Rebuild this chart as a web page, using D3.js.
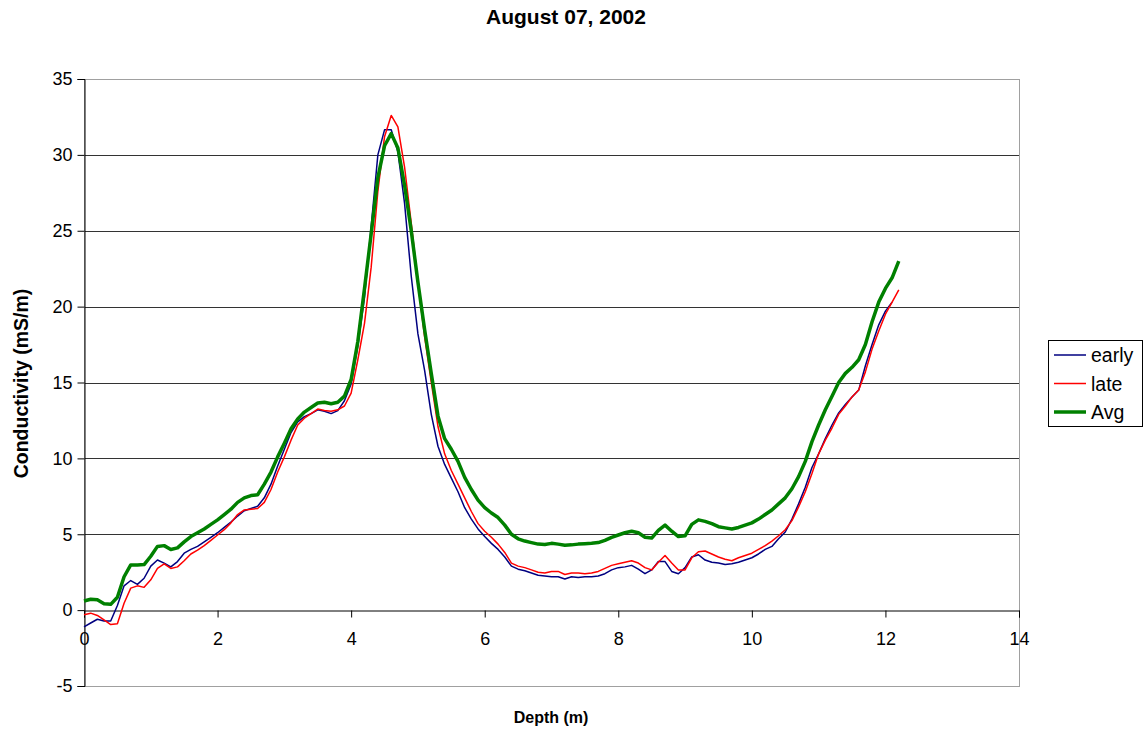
<!DOCTYPE html>
<html>
<head>
<meta charset="utf-8">
<script src="https://cdn.jsdelivr.net/npm/d3@7/dist/d3.min.js"></script>
<style>
  body { margin: 0; background: #fff; }
  svg { display: block; font-family: "Liberation Sans", Arial, sans-serif; }
</style>
</head>
<body>
<svg id="chart" width="1147" height="729"></svg>
<script>
// Depth samples (m), every 0.1 m from 0 to 12.2
const depth = d3.range(0, 123).map(i => +(i * 0.1).toFixed(1));

// Conductivity (mS/m), early survey
const early = [
  -1.1, -0.85, -0.6, -0.72, -0.72, 0.3, 1.6, 1.95, 1.7, 2.1,
  2.9, 3.3, 3.1, 2.85, 3.2, 3.75, 4.0, 4.2, 4.5, 4.8,
  5.1, 5.45, 5.8, 6.2, 6.55, 6.7, 6.85, 7.4, 8.3, 9.5,
  10.6, 11.7, 12.4, 12.75, 12.95, 13.2, 13.1, 12.95, 13.15, 13.8,
  14.9, 17.4, 20.6, 25.3, 30.0, 31.65, 31.65, 30.2, 26.8, 22.0,
  18.2, 15.8, 12.9, 10.8, 9.6, 8.7, 7.8, 6.75, 6.0, 5.35,
  4.85, 4.4, 4.0, 3.5, 2.9, 2.7, 2.6, 2.45, 2.3, 2.25,
  2.2, 2.2, 2.05, 2.2, 2.15, 2.2, 2.2, 2.25, 2.4, 2.65,
  2.8, 2.85, 2.95, 2.7, 2.4, 2.65, 3.2, 3.2, 2.55, 2.4,
  2.8, 3.5, 3.65, 3.3, 3.15, 3.1, 3.0, 3.05, 3.15, 3.3,
  3.45, 3.7, 4.0, 4.2, 4.7, 5.15, 6.0, 7.0, 8.1, 9.4,
  10.3, 11.3, 12.2, 13.0, 13.55, 14.05, 14.5, 16.1, 17.5, 18.8,
  19.7, 20.3
];

// Conductivity (mS/m), late survey
const late = [
  -0.3, -0.2, -0.35, -0.65, -0.95, -0.9, 0.45, 1.45, 1.6, 1.5,
  2.0, 2.75, 3.05, 2.75, 2.85, 3.25, 3.7, 3.95, 4.25, 4.6,
  4.95, 5.3, 5.75, 6.3, 6.6, 6.65, 6.7, 7.1, 7.95, 9.1,
  10.1, 11.2, 12.2, 12.65, 12.95, 13.25, 13.15, 13.1, 13.2, 13.45,
  14.3, 16.5, 18.9, 22.6, 27.6, 31.2, 32.6, 31.85, 29.2, 25.5,
  21.6, 18.0, 15.0, 12.1, 10.3, 9.2, 8.3, 7.4, 6.5, 5.7,
  5.2, 4.8, 4.35, 3.8, 3.1, 2.9, 2.8, 2.65, 2.5, 2.45,
  2.55, 2.55, 2.35, 2.45, 2.45, 2.4, 2.45, 2.55, 2.75, 2.95,
  3.05, 3.15, 3.25, 3.1, 2.8, 2.65, 3.15, 3.6, 3.1, 2.65,
  2.65, 3.45, 3.85, 3.9, 3.7, 3.5, 3.35, 3.25, 3.45, 3.6,
  3.75, 4.0, 4.25, 4.55, 4.9, 5.3, 5.9, 6.8, 7.8, 9.0,
  10.3, 11.2, 12.0, 12.9, 13.45, 14.05, 14.5, 15.7, 17.2, 18.4,
  19.5, 20.3, 21.1
];

// Conductivity (mS/m), average profile
const avg = [
  0.6, 0.72, 0.68, 0.42, 0.38, 0.85, 2.2, 2.98, 2.98, 3.0,
  3.55, 4.2, 4.25, 4.0, 4.1, 4.5, 4.85, 5.1, 5.35, 5.65,
  5.95, 6.3, 6.65, 7.1, 7.4, 7.55, 7.6, 8.3, 9.1, 10.1,
  11.0, 11.95, 12.6, 13.05, 13.35, 13.65, 13.7, 13.6, 13.7, 14.1,
  15.2, 17.7, 21.2, 24.8, 28.5, 30.6, 31.4, 30.45, 28.0, 25.0,
  21.6, 18.5, 15.6, 12.8, 11.3, 10.6, 9.8, 8.75, 7.95, 7.25,
  6.75, 6.4, 6.1, 5.6, 5.0, 4.7, 4.55, 4.45, 4.35, 4.32,
  4.4, 4.35, 4.28, 4.3, 4.35, 4.38, 4.4, 4.45, 4.6, 4.8,
  4.95, 5.1, 5.2, 5.1, 4.8, 4.75, 5.25, 5.6, 5.2, 4.85,
  4.9, 5.65, 5.95, 5.85, 5.7, 5.5, 5.42, 5.35, 5.45, 5.6,
  5.75, 6.0, 6.3, 6.6, 7.0, 7.4, 8.0, 8.8, 9.8, 11.1,
  12.2, 13.2, 14.1, 15.0, 15.6, 16.0, 16.5, 17.5, 19.0, 20.3,
  21.2, 21.9, 23.0
];

const xTicks = [0, 2, 4, 6, 8, 10, 12, 14];
const yTicks = [-5, 0, 5, 10, 15, 20, 25, 30, 35];

const series = [
  { name: "early", values: early, color: "#000080", width: 1.5 },
  { name: "late",  values: late,  color: "#ff0000", width: 1.5 },
  { name: "Avg",   values: avg,   color: "#008000", width: 3.5 }
];

const svg = d3.select("#chart");
const plot = { left: 84, right: 1019, top: 79, bottom: 686 };

const x = d3.scaleLinear().domain([0, 14]).range([plot.left, plot.right]);
const y = d3.scaleLinear().domain([-5, 35]).range([plot.bottom, plot.top]);
const fmt = d => String(d);

// Horizontal gridlines
svg.append("g")
  .selectAll("line")
  .data(yTicks.filter(t => t > -5 && t < 35 && t !== 0))
  .join("line")
  .attr("x1", plot.left).attr("x2", plot.right)
  .attr("y1", d => Math.round(y(d)) + 0.5).attr("y2", d => Math.round(y(d)) + 0.5)
  .attr("stroke", "#333").attr("stroke-width", 1);

// Plot area frame
svg.append("rect")
  .attr("x", plot.left + 0.5).attr("y", plot.top + 0.5)
  .attr("width", plot.right - plot.left).attr("height", plot.bottom - plot.top)
  .attr("fill", "none").attr("stroke", "#a0a0a0").attr("stroke-width", 1);

// Y axis on the left
const yAxis = svg.append("g")
  .attr("transform", `translate(${plot.left + 0.5},0)`)
  .call(d3.axisLeft(y).tickValues(yTicks).tickSize(7).tickPadding(5).tickFormat(fmt));
yAxis.select(".domain").attr("stroke", "#000");
yAxis.selectAll(".tick line").attr("stroke", "#000");
yAxis.selectAll("text").attr("font-size", 18).attr("fill", "#000")
  .attr("font-family", "Liberation Sans, Arial, sans-serif");

// X axis crossing at zero conductivity
const x0 = Math.round(y(0)) + 0.5;
const xAxis = svg.append("g")
  .attr("transform", `translate(0,${x0})`)
  .call(d3.axisBottom(x).tickValues(xTicks).tickSize(7).tickPadding(15).tickFormat(fmt));
xAxis.select(".domain").attr("stroke", "#000");
xAxis.selectAll(".tick line").attr("stroke", "#000");
xAxis.selectAll("text").attr("font-size", 18).attr("fill", "#000")
  .attr("font-family", "Liberation Sans, Arial, sans-serif");

// Profiles
const line = d3.line().x((d, i) => x(depth[i])).y(d => y(d));
series.forEach(s => {
  svg.append("path")
    .datum(s.values)
    .attr("fill", "none")
    .attr("stroke", s.color)
    .attr("stroke-width", s.width)
    .attr("stroke-linejoin", "round")
    .attr("d", line);
});

// Titles
svg.append("text")
  .attr("x", 566).attr("y", 24)
  .attr("text-anchor", "middle")
  .attr("font-size", 21).attr("font-weight", "bold")
  .text("August 07, 2002");

svg.append("text")
  .attr("transform", `translate(28,${(plot.top + plot.bottom) / 2 + 1}) rotate(-90)`)
  .attr("text-anchor", "middle")
  .attr("font-size", 19.5).attr("font-weight", "bold")
  .text("Conductivity (mS/m)");

svg.append("text")
  .attr("x", 551).attr("y", 723)
  .attr("text-anchor", "middle")
  .attr("font-size", 16).attr("font-weight", "bold")
  .text("Depth (m)");

// Legend
const legend = svg.append("g").attr("transform", "translate(1048,340)");
legend.append("rect")
  .attr("x", 0.5).attr("y", 0.5).attr("width", 94).attr("height", 86)
  .attr("fill", "#fff").attr("stroke", "#000").attr("stroke-width", 1);
series.forEach((s, i) => {
  const ly = 15 + i * 28.5;
  legend.append("line")
    .attr("x1", 6).attr("x2", 38).attr("y1", ly).attr("y2", ly)
    .attr("stroke", s.color).attr("stroke-width", s.width);
  legend.append("text")
    .attr("x", 43).attr("y", ly + 7)
    .attr("font-size", 19.5)
    .text(s.name);
});
</script>
</body>
</html>
